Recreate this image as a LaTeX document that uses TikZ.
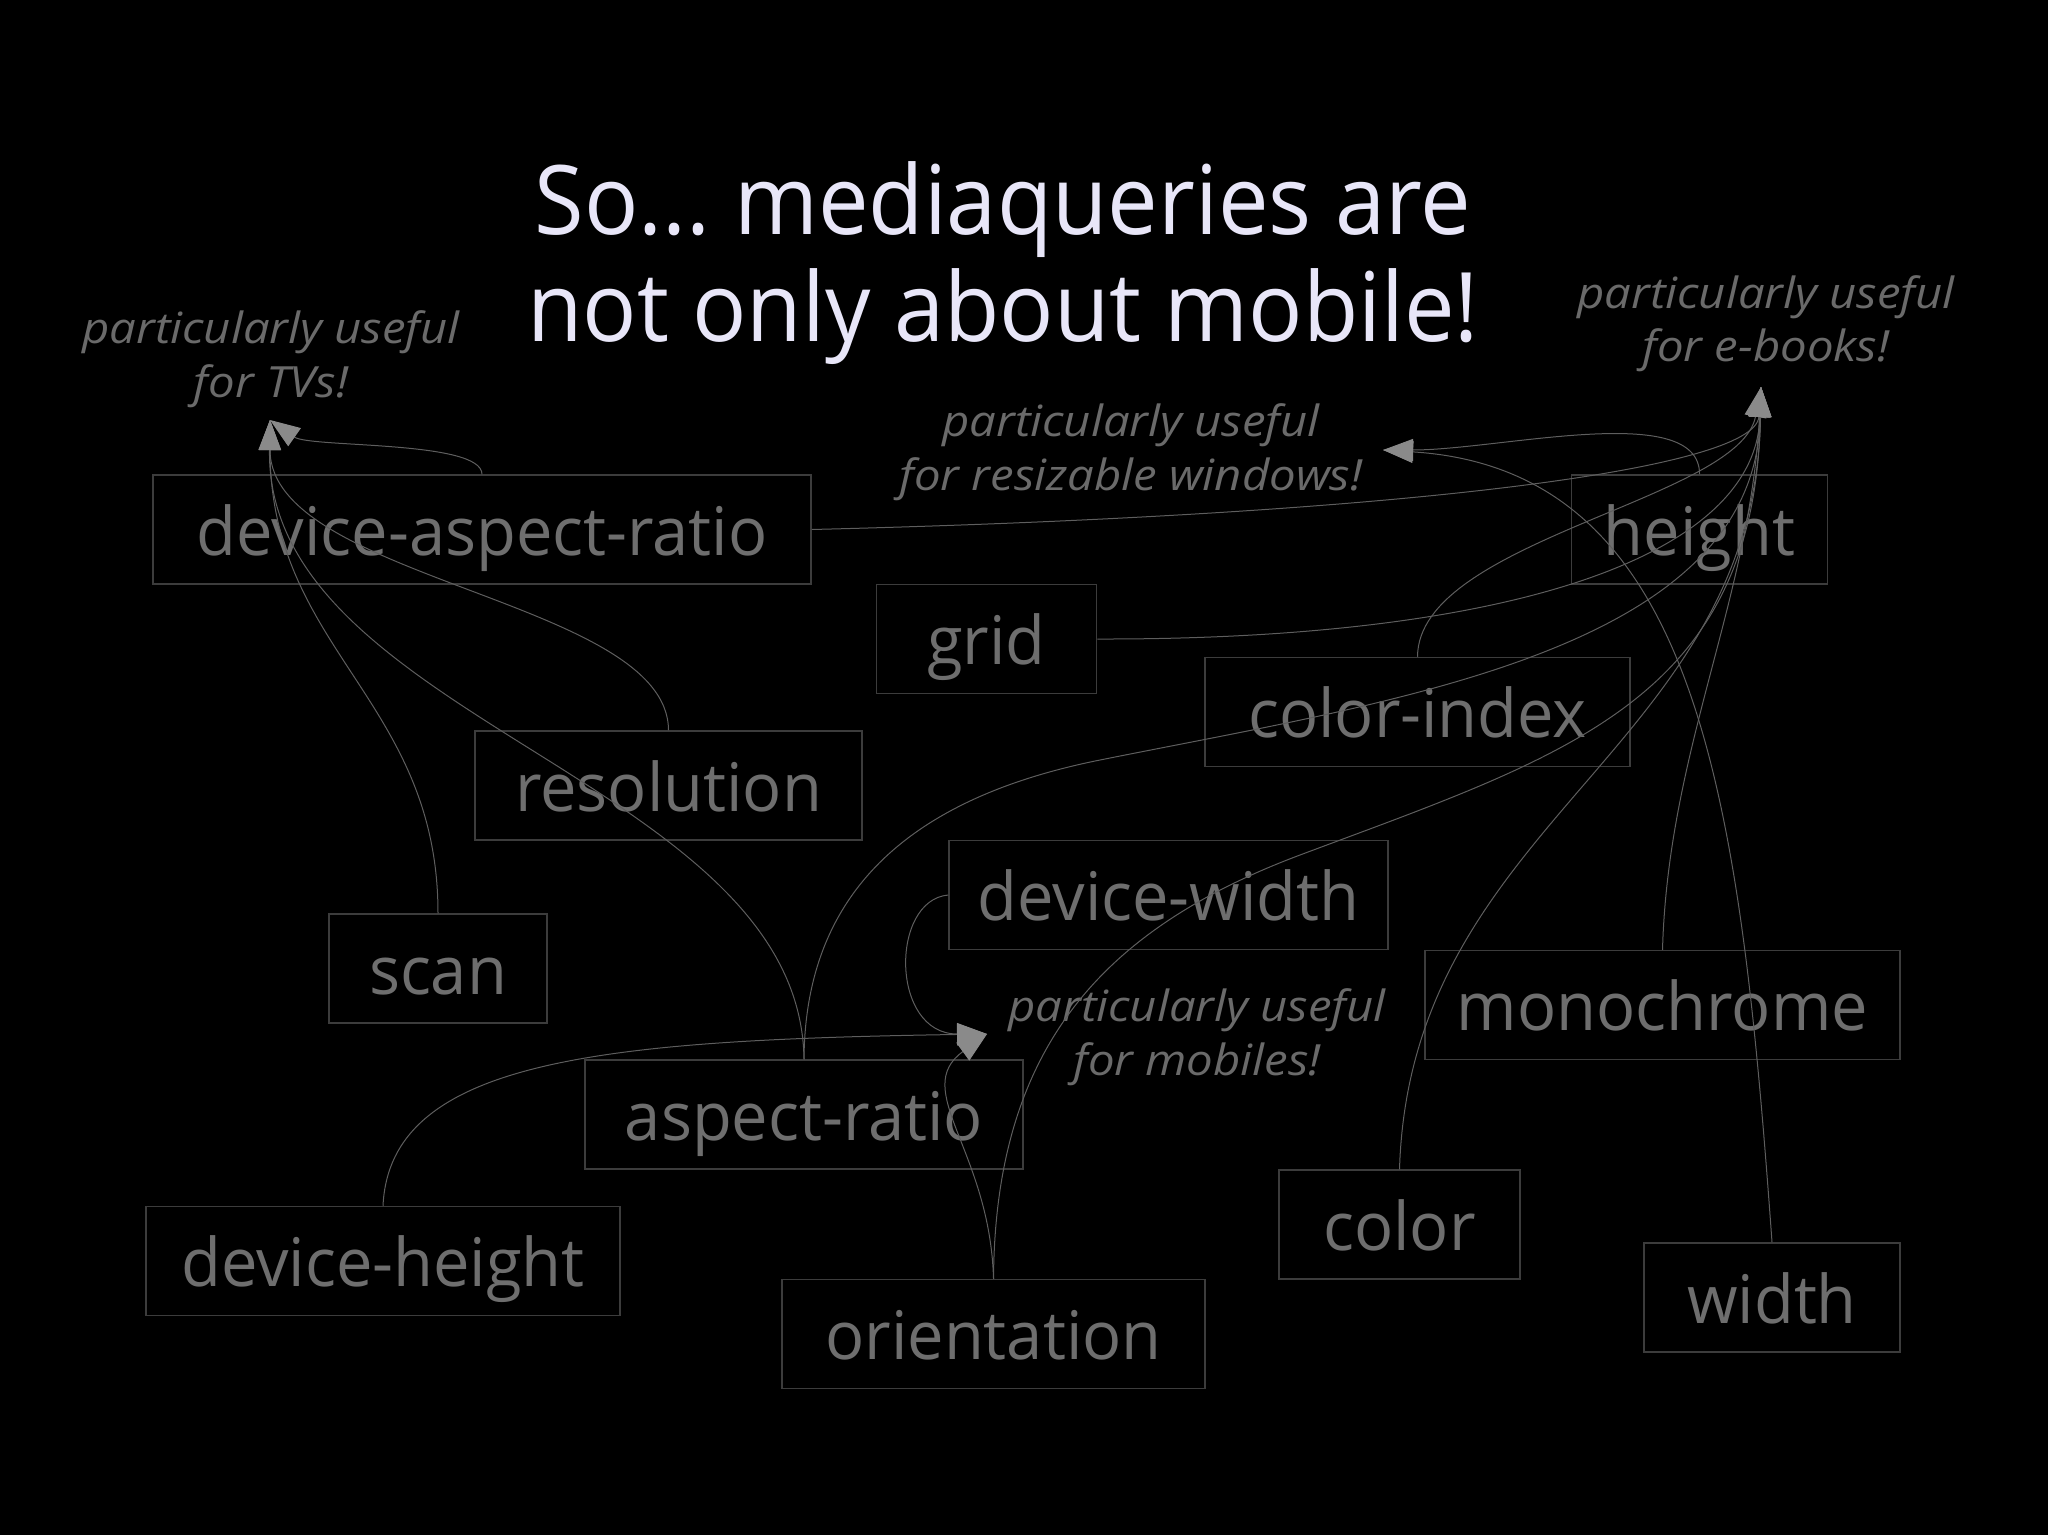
\documentclass[tikz,border=0pt]{standalone}
\usepackage{fontspec}
\setmainfont{Open Sans}
\newfontfamily\labfont{Open Sans}[FakeStretch=0.97]
\newfontfamily\ttlfont{Open Sans}[FakeStretch=0.94]
\newfontfamily\notefont{Open Sans}[FakeStretch=1.1]
\usetikzlibrary{arrows.meta}
\definecolor{titlecol}{HTML}{E8E6F8}
\definecolor{boxtext}{HTML}{6E6E6E}
\definecolor{boxline}{HTML}{3C3C3C}
\definecolor{linkgray}{HTML}{5E5E5E}
\definecolor{arrowgray}{HTML}{8A8A8A}
\definecolor{notetext}{HTML}{6A6A6A}
\frenchspacing
\begin{document}
\begin{tikzpicture}[x=0.5pt,y=-0.5pt,
  prop/.style={draw=boxline, line width=0.75pt, text=boxtext,
    font=\labfont\fontsize{33.5}{40}\selectfont,
    minimum height=54.5pt, text height=30pt, text depth=4.5pt, inner sep=0pt},
  note/.style={text=notetext, font=\notefont\itshape\fontsize{21.5}{26.75}\selectfont,
    align=center, inner sep=0pt, anchor=base},
  ttl/.style={text=titlecol, font=\ttlfont\fontsize{48}{53.5}\selectfont,
    align=center, inner sep=0pt, anchor=base},
  link/.style={draw=linkgray, line width=0.5pt,
    -{Triangle[length=15pt,width=11pt,color=arrowgray]}},
]
\fill[black] (0,0) rectangle (2048,1535);
\useasboundingbox (0,0) rectangle (2048,1535);

% title (base anchor = baseline of the last line)
\node[ttl] (title) at (1003,342) {So... mediaqueries are\\not only about mobile!};

% annotations
\node[note] (tvs) at (271,397) {particularly useful\\for TVs!};
\node[note] (ebooks) at (1766,362) {particularly useful\\for e-books!};
\node[note] (resize) at (1131,490) {particularly useful\\for resizable windows!};
\node[note] (mobiles) at (1197,1075) {particularly useful\\for mobiles!};

\coordinate (tvsTip) at (270,420);
\coordinate (ebkTip) at (1761,387);
\coordinate (rszTip) at (1383,450);
\coordinate (mobTip) at (987,1034);

% property boxes
\node[prop, minimum width=329pt] (dar) at (482,529.5) {device-aspect-ratio};
\node[prop, minimum width=110pt] (grid) at (986.5,639) {grid};
\node[prop, minimum width=128pt] (height) at (1699.5,529.5) {height};
\node[prop, minimum width=212.5pt] (ci) at (1417.5,712) {color-index};
\node[prop, minimum width=193.5pt] (res) at (668.5,785.5) {resolution};
\node[prop, minimum width=219.5pt] (dw) at (1168.5,895) {device-width};
\node[prop, minimum width=109pt] (scan) at (438,968.5) {scan};
\node[prop, minimum width=237.5pt] (mono) at (1662.5,1005) {monochrome};
\node[prop, minimum width=219pt] (ar) at (804,1114.5) {aspect-ratio};
\node[prop, minimum width=237pt] (dh) at (383,1261) {device-height};
\node[prop, minimum width=120.5pt] (color) at (1399.5,1224.5) {color};
\node[prop, minimum width=211.5pt] (or) at (993.5,1334) {orientation};
\node[prop, minimum width=128pt] (width) at (1772,1297.5) {width};

% to TVs
\draw[link] (dar.north) .. controls (482,440) and (310,448) .. (tvsTip);
\draw[link] (res.north) .. controls (668,600) and (270,580) .. (tvsTip);
\draw[link] (ar.north) .. controls (800,780) and (265,720) .. (tvsTip);
\draw[link] (scan.north) .. controls (438,700) and (270,650) .. (tvsTip);

% to e-books
\draw[link] (dar.east) .. controls (1400,515) and (1755,470) .. (ebkTip);
\draw[link] (grid.east) .. controls (1500,640) and (1755,560) .. (ebkTip);
\draw[link] (ci.north) .. controls (1418,540) and (1740,500) .. (ebkTip);
\draw[link] (ar.north) .. controls (805,900) and (900,800) .. (1100,760)
   .. controls (1400,700) and (1755,650) .. (ebkTip);
\draw[link] (or.north) .. controls (995,1050) and (1100,930) .. (1300,855)
   .. controls (1567,755) and (1755,700) .. (ebkTip);
\draw[link] (color.north) .. controls (1410,820) and (1755,750) .. (ebkTip);
\draw[link] (mono.north) .. controls (1668,750) and (1750,600) .. (ebkTip);

% to resizable windows
\draw[link] (height.north) .. controls (1700,400) and (1500,450) .. (rszTip);
\draw[link] (width.north) .. controls (1740,800) and (1700,470) .. (rszTip);

% to mobiles
\draw[link] (dw.west) .. controls (890,900) and (890,1034) .. (mobTip);
\draw[link] (dh.north) .. controls (390,1060) and (600,1040) .. (mobTip);
\draw[link] (or.north) .. controls (990,1150) and (910,1090) .. (mobTip);
\end{tikzpicture}
\end{document}
